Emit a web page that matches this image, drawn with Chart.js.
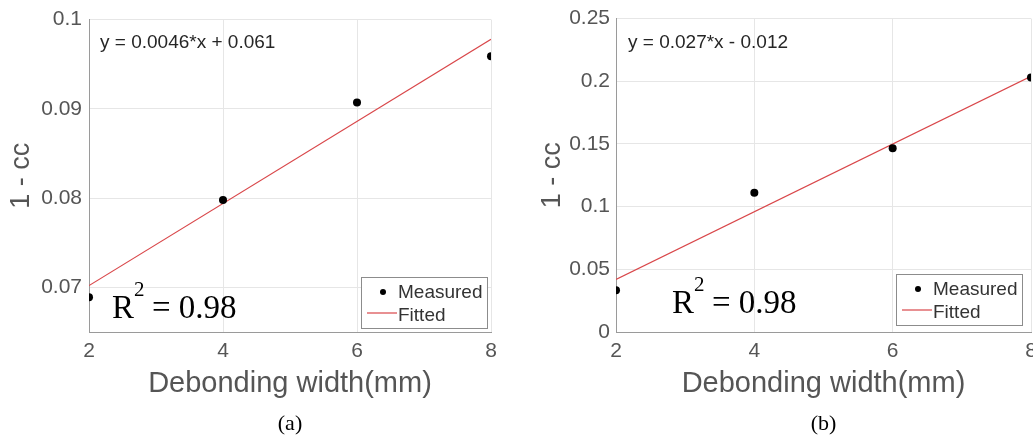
<!DOCTYPE html>
<html lang="en">
<head>
  <meta charset="UTF-8" />
  <title>1 - cc vs debonding width</title>
  <script src="https://cdn.jsdelivr.net/npm/chart.js"></script>
  <style>
    html, body { margin: 0; padding: 0; background: #fff; overflow: hidden; width: 1033px; height: 437px; }
    .panel { position: absolute; top: 0; height: 437px; }
    #panelA { left: 0; width: 515px; }
    #panelB { left: 520px; width: 540px; }
  </style>
</head>
<body>
  <div class="panel" id="panelA"><canvas id="chartA"></canvas></div>
  <div class="panel" id="panelB"><canvas id="chartB"></canvas></div>

<script>
// debonding widths (mm)
const widths = [2, 4, 6, 8];
const xTicks = [2, 4, 6, 8];

// panel (a)
const measuredA = [0.0689, 0.0798, 0.0907, 0.0959];
const fitXA = [2, 8];
const fitYA = [0.0702, 0.0978];
const yTicksA = [0.07, 0.08, 0.09, 0.1];
const yRangeA = [0.065, 0.1];
const eqA = 'y = 0.0046*x + 0.061';

// panel (b)
const measuredB = [0.0334, 0.111, 0.1465, 0.203];
const fitXB = [2, 8];
const fitYB = [0.042, 0.204];
const yTicksB = [0, 0.05, 0.1, 0.15, 0.2, 0.25];
const yRangeB = [0, 0.25];
const eqB = 'y = 0.027*x - 0.012';

const r2Text = '0.98';

const SANS = '"Liberation Sans", Arial, sans-serif';
const SERIF = '"Liberation Serif", "Times New Roman", serif';

// equation, R^2 note, legend box and caption
function overlay(opts) {
  return {
    id: 'overlay',
    afterDraw(chart) {
      const ctx = chart.ctx;
      const a = chart.chartArea;
      ctx.save();

      // fit equation
      ctx.fillStyle = '#262626';
      ctx.font = '19px ' + SANS;
      ctx.textBaseline = 'alphabetic';
      ctx.textAlign = 'left';
      ctx.fillText(opts.eq, a.left + opts.eqDx, 48);

      // R^2
      ctx.fillStyle = '#000';
      ctx.font = '33px ' + SERIF;
      ctx.fillText('R', a.left + opts.rDx, opts.rY);
      const rw = ctx.measureText('R').width;
      ctx.font = '21px ' + SERIF;
      ctx.fillText('2', a.left + opts.rDx + rw + 0, opts.rY - 22);
      ctx.font = '33px ' + SERIF;
      ctx.fillText('= ' + r2Text, a.left + opts.rDx + rw + 18, opts.rY);

      // legend
      const lx = a.right - opts.legRight, ly = opts.legTop;
      const lw = 126, lh = 51;
      ctx.fillStyle = '#fff';
      ctx.fillRect(lx, ly, lw, lh);
      ctx.strokeStyle = '#8c8c8c';
      ctx.lineWidth = 1;
      ctx.strokeRect(lx + 0.5, ly + 0.5, lw, lh);
      ctx.fillStyle = '#000';
      ctx.beginPath();
      ctx.arc(lx + 22, ly + 15, 3, 0, Math.PI * 2);
      ctx.fill();
      ctx.strokeStyle = '#d9474a';
      ctx.lineWidth = 1.2;
      ctx.beginPath();
      ctx.moveTo(lx + 6, ly + 36);
      ctx.lineTo(lx + 36, ly + 36);
      ctx.stroke();
      ctx.fillStyle = '#333';
      ctx.font = '19px ' + SANS;
      ctx.fillText('Measured', lx + 37, ly + 21);
      ctx.fillText('Fitted', lx + 37, ly + 44);

      // caption
      ctx.fillStyle = '#000';
      ctx.font = '22px ' + SERIF;
      ctx.textAlign = 'center';
      ctx.fillText(opts.caption, (a.left + a.right) / 2, 430);
      ctx.restore();
    }
  };
}

function makeChart(id, measured, fitX, fitY, yTicks, yRange, extra) {
  const ctx = document.getElementById(id).getContext('2d');
  return new Chart(ctx, {
    type: 'scatter',
    data: {
      datasets: [
        {
          label: 'Measured',
          data: widths.map((w, i) => ({ x: w, y: measured[i] })),
          pointRadius: 4,
          pointBackgroundColor: '#000',
          pointBorderWidth: 0,
          showLine: false
        },
        {
          label: 'Fitted',
          type: 'line',
          data: fitX.map((w, i) => ({ x: w, y: fitY[i] })),
          borderColor: '#d9474a',
          borderWidth: 1.2,
          pointRadius: 0,
          fill: false
        }
      ]
    },
    options: {
      responsive: false,
      animation: false,
      layout: { padding: { top: 18, right: extra.padRight, bottom: 36, left: 0 } },
      plugins: { legend: { display: false }, tooltip: { enabled: false } },
      scales: {
        x: {
          type: 'linear',
          min: 2,
          max: 8,
          afterBuildTicks: s => { s.ticks = xTicks.map(v => ({ value: v })); },
          afterFit: s => { s.height = 69; },
          grid: { color: '#e6e6e6', drawTicks: false },
          border: { color: '#9a9a9a', width: 1 },
          ticks: { color: '#555', padding: 7, font: { family: SANS, size: 21 } },
          title: {
            display: true,
            text: 'Debonding width(mm)',
            color: '#555',
            padding: { top: 0, bottom: 0 },
            font: { family: SANS, size: 29 }
          }
        },
        y: {
          min: yRange[0],
          max: yRange[1],
          afterBuildTicks: s => { s.ticks = yTicks.map(v => ({ value: v })); },
          afterFit: s => { s.width = extra.yWidth; },
          grid: { color: '#e6e6e6', drawTicks: false },
          border: { color: '#9a9a9a', width: 1 },
          ticks: {
            color: '#555',
            padding: extra.tickPad,
            font: { family: SANS, size: 21 },
            callback: v => String(+v.toFixed(3))
          },
          title: {
            display: true,
            text: '1 - cc',
            color: '#555',
            padding: { top: extra.titlePad, bottom: 0 },
            font: { family: SANS, size: 27 }
          }
        }
      }
    },
    plugins: [overlay(extra)]
  });
}

function sizeCanvas(id, w, h) {
  const c = document.getElementById(id);
  c.width = w; c.height = h;
  c.style.width = w + 'px'; c.style.height = h + 'px';
}

sizeCanvas('chartA', 515, 437);
sizeCanvas('chartB', 540, 437);

makeChart('chartA', measuredA, fitXA, fitYA, yTicksA, yRangeA, {
  padRight: 24, yWidth: 89, tickPad: 7, titlePad: 5,
  eq: eqA, eqDx: 11, rDx: 23, rY: 318, legRight: 130, legTop: 277, caption: '(a)'
});

makeChart('chartB', measuredB, fitXB, fitYB, yTicksB, yRangeB, {
  padRight: 29, yWidth: 96, tickPad: 6, titlePad: 16,
  eq: eqB, eqDx: 12, rDx: 56, rY: 313, legRight: 135, legTop: 274, caption: '(b)'
});
</script>
</body>
</html>
